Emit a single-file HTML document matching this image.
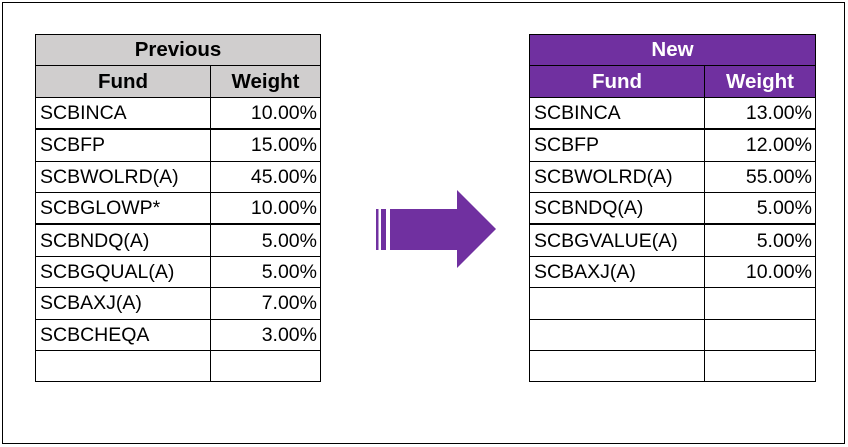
<!DOCTYPE html>
<html><head><style>
body{margin:0;width:848px;height:447px;background:#fff;position:relative;font-family:"Liberation Sans",sans-serif;overflow:hidden}
.frame{position:absolute;left:2px;top:2px;width:841px;height:440px;border:1px solid #000}
table{position:absolute;border-collapse:collapse;font-size:19.5px;color:#000;table-layout:fixed}
td{border:1px solid #000;height:30.4px;padding:0 3px 0 4px;line-height:30px;white-space:nowrap;overflow:hidden}
td.r{text-align:right}
th{border:1px solid #000;height:30.4px;font-weight:bold;font-size:20.5px;padding:0;line-height:30px}
.p th{background:#d0cece}
.n th{background:#7030a0;color:#fff}
tr.tk td{border-bottom:2px solid #000}
</style></head><body>
<div class="frame"></div>
<table class="p" style="left:35px;top:34px;width:286px">
<colgroup><col style="width:175px"><col></colgroup>
<tr><th colspan="2">Previous</th></tr>
<tr><th>Fund</th><th>Weight</th></tr>
<tr class="tk"><td>SCBINCA</td><td class="r">10.00%</td></tr>
<tr><td>SCBFP</td><td class="r">15.00%</td></tr>
<tr><td>SCBWOLRD(A)</td><td class="r">45.00%</td></tr>
<tr class="tk"><td>SCBGLOWP*</td><td class="r">10.00%</td></tr>
<tr><td>SCBNDQ(A)</td><td class="r">5.00%</td></tr>
<tr><td>SCBGQUAL(A)</td><td class="r">5.00%</td></tr>
<tr><td>SCBAXJ(A)</td><td class="r">7.00%</td></tr>
<tr><td>SCBCHEQA</td><td class="r">3.00%</td></tr>
<tr><td></td><td></td></tr>
</table>
<table class="n" style="left:529px;top:34px;width:287px">
<colgroup><col style="width:175px"><col></colgroup>
<tr><th colspan="2">New</th></tr>
<tr><th>Fund</th><th>Weight</th></tr>
<tr class="tk"><td>SCBINCA</td><td class="r">13.00%</td></tr>
<tr><td>SCBFP</td><td class="r">12.00%</td></tr>
<tr><td>SCBWOLRD(A)</td><td class="r">55.00%</td></tr>
<tr class="tk"><td>SCBNDQ(A)</td><td class="r">5.00%</td></tr>
<tr><td>SCBGVALUE(A)</td><td class="r">5.00%</td></tr>
<tr><td>SCBAXJ(A)</td><td class="r">10.00%</td></tr>
<tr><td></td><td></td></tr>
<tr><td></td><td></td></tr>
<tr><td></td><td></td></tr>
</table>
<svg style="position:absolute;left:0;top:0" width="848" height="447">
<rect x="376" y="209" width="2.5" height="41" fill="#7030a0"/>
<rect x="381" y="209" width="5" height="41" fill="#7030a0"/>
<polygon points="390,209 457,209 457,190 496,229 457,268 457,250 390,250" fill="#7030a0"/>
</svg>
</body></html>
